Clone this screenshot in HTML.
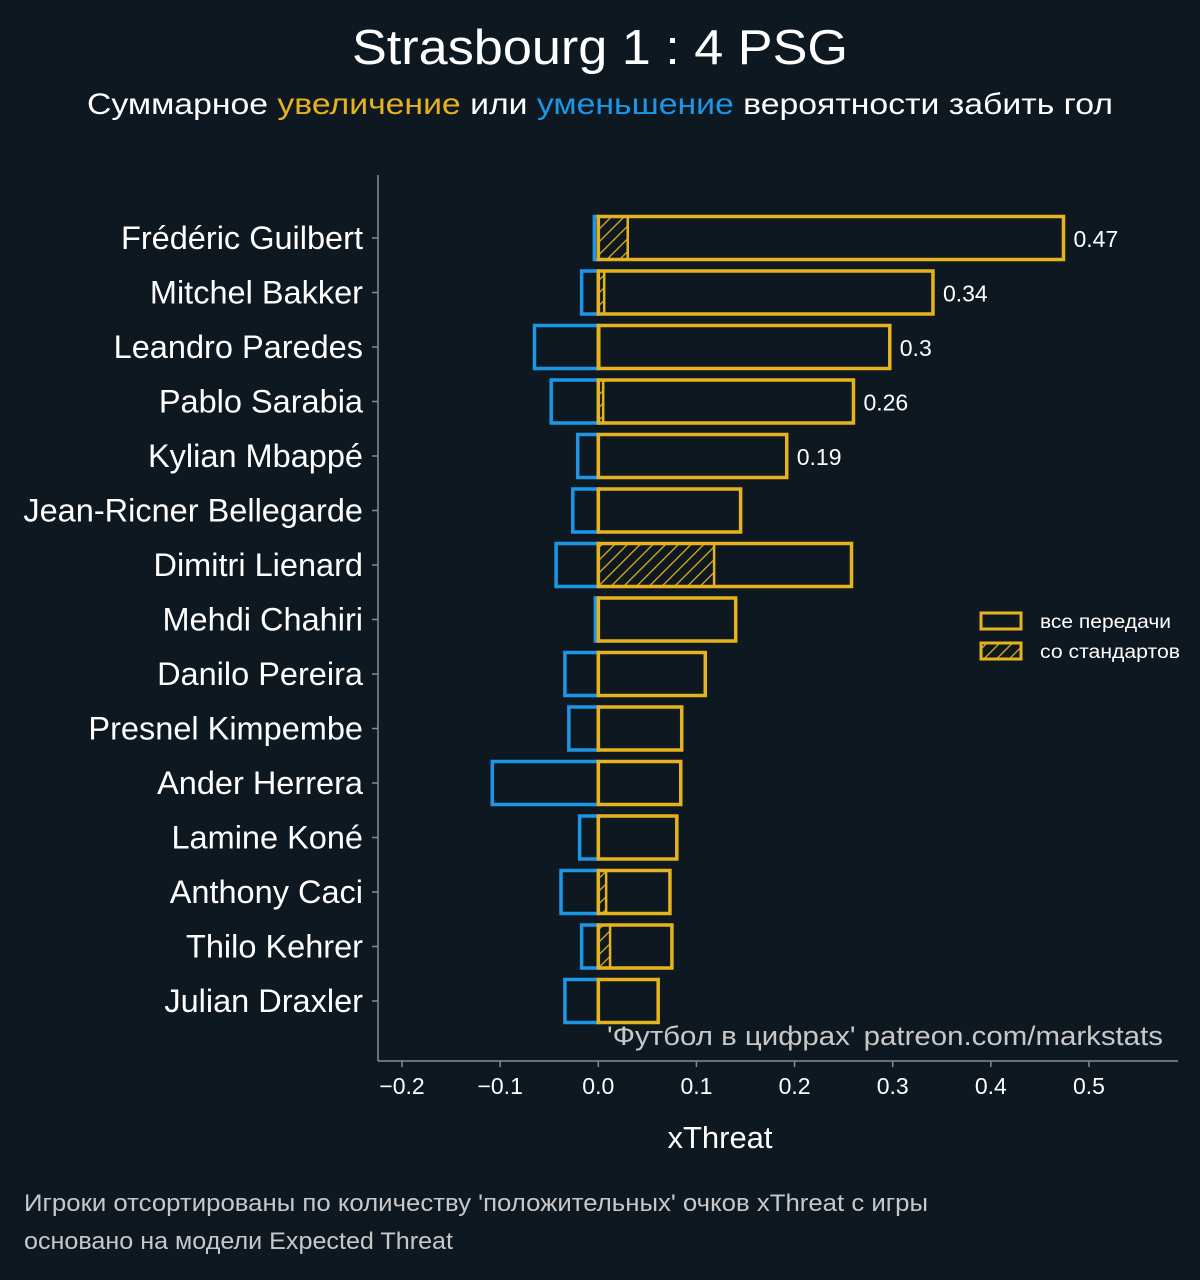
<!DOCTYPE html>
<html><head><meta charset="utf-8"><style>
html,body{margin:0;padding:0;background:#0e1820;}
svg text{font-family:"Liberation Sans","DejaVu Sans",sans-serif;}
</style></head><body>
<svg id="chart" width="1200" height="1275" xmlns="http://www.w3.org/2000/svg">
<defs>
<pattern id="hatch" patternUnits="userSpaceOnUse" width="9" height="9" patternTransform="rotate(45)">
<line x1="0" y1="0" x2="0" y2="9" stroke="#e6b31e" stroke-width="2.5"/>
</pattern>
</defs>
<rect width="1200" height="1275" fill="#0e1820"/>
<text x="352" y="64" fill="#ffffff" font-size="49" textLength="496" lengthAdjust="spacingAndGlyphs">Strasbourg 1 : 4 PSG</text>
<text x="87" y="114" fill="#ffffff" font-size="30" textLength="1026" lengthAdjust="spacingAndGlyphs">Суммарное <tspan fill="#e6b31e">увеличение</tspan> или <tspan fill="#1e96e8">уменьшение</tspan> вероятности забить гол</text>
<g id="plot"></g>
<line x1="378" y1="175" x2="378" y2="1061" stroke="#7e8f96" stroke-width="1.5"/>
<line x1="378" y1="1061" x2="1178" y2="1061" stroke="#7e8f96" stroke-width="1.5"/>
<text x="720" y="1148" fill="#ffffff" font-size="31" text-anchor="middle">xThreat</text>
<text x="607" y="1045" fill="#c8c8c8" font-size="27" textLength="556" lengthAdjust="spacingAndGlyphs">'Футбол в цифрах' patreon.com/markstats</text>
<g>
<rect x="981" y="613" width="40" height="16" fill="none" stroke="#e6b31e" stroke-width="3"/>
<text x="1040" y="628" fill="#ffffff" font-size="19" textLength="131" lengthAdjust="spacingAndGlyphs">все передачи</text>
<rect x="981" y="643" width="40" height="16" fill="url(#hatch)" stroke="#e6b31e" stroke-width="3"/>
<text x="1040" y="658" fill="#ffffff" font-size="19" textLength="140" lengthAdjust="spacingAndGlyphs">со стандартов</text>
</g>
<text x="24" y="1211" fill="#c8c8c8" font-size="24" textLength="904" lengthAdjust="spacingAndGlyphs">Игроки отсортированы по количеству 'положительных' очков xThreat с игры</text>
<text x="24" y="1249" fill="#c8c8c8" font-size="24" textLength="429" lengthAdjust="spacingAndGlyphs">основано на модели Expected Threat</text>
</svg>
<script>
const players = ["Frédéric Guilbert","Mitchel Bakker","Leandro Paredes","Pablo Sarabia","Kylian Mbappé","Jean-Ricner Bellegarde","Dimitri Lienard","Mehdi Chahiri","Danilo Pereira","Presnel Kimpembe","Ander Herrera","Lamine Koné","Anthony Caci","Thilo Kehrer","Julian Draxler"];
const positiveValues = [0.474,0.341,0.297,0.26,0.192,0.145,0.258,0.14,0.109,0.085,0.084,0.08,0.073,0.075,0.061];
const negativeValues = [-0.004,-0.017,-0.065,-0.048,-0.021,-0.026,-0.043,-0.003,-0.034,-0.03,-0.108,-0.019,-0.038,-0.017,-0.034];
const setPieceValues = [0.03,0.006,0.001,0.005,0,0,0.118,0,0,0,0,0,0.008,0.012,0];
const valueLabels = ["0.47","0.34","0.3","0.26","0.19","","","","","","","","","",""];
const xTicks = [-0.2,-0.1,0.0,0.1,0.2,0.3,0.4,0.5];
const xTickLabels = ["−0.2","−0.1","0.0","0.1","0.2","0.3","0.4","0.5"];

const NS="http://www.w3.org/2000/svg";
const xScale = v => 598.3 + v*981.4;
const yScale = i => 238 + i*54.5;
const barH = 43;
const g = document.getElementById('plot');
function mk(tag, attrs){const e=document.createElementNS(NS,tag);for(const k in attrs)e.setAttribute(k,attrs[k]);g.appendChild(e);return e;}

players.forEach((p,i)=>{
  const y = yScale(i);
  const neg = mk('rect',{x:xScale(negativeValues[i]),y:y-barH/2,width:xScale(0)-xScale(negativeValues[i]),height:barH,fill:'none',stroke:'#1e96e8','stroke-width':3.5});
  
  
  if(setPieceValues[i]>0){
    const sp = mk('rect',{x:xScale(0),y:y-barH/2,width:xScale(setPieceValues[i])-xScale(0),height:barH,fill:'url(#hatch)',stroke:'#e6b31e','stroke-width':2.5});
    
    
  }
  const pos = mk('rect',{x:xScale(0),y:y-barH/2,width:xScale(positiveValues[i])-xScale(0),height:barH,fill:'none',stroke:'#e6b31e','stroke-width':3.5});
  
  
  const tk = mk('line',{x1:372,x2:378,y1:y,y2:y,stroke:'#7e8f96','stroke-width':1.5});
  
  
  const lb = mk('text',{x:363,y:y+11,fill:'#ffffff','font-size':32.5,'text-anchor':'end'});
  lb.textContent=p;
  
  
  if(valueLabels[i]){
    const vl = mk('text',{x:xScale(positiveValues[i])+10,y:y+9,fill:'#ffffff','font-size':23});
    vl.textContent=valueLabels[i];
    
    
  }
});
xTicks.forEach((t,i)=>{
  const x=xScale(t);
  const tk = mk('line',{x1:x,x2:x,y1:1061,y2:1067,stroke:'#7e8f96','stroke-width':1.5});
  
  
  const lb = mk('text',{x:x,y:1094,fill:'#ffffff','font-size':23,'text-anchor':'middle'});
  lb.textContent=xTickLabels[i];
  
  
});
</script>
</body></html>
